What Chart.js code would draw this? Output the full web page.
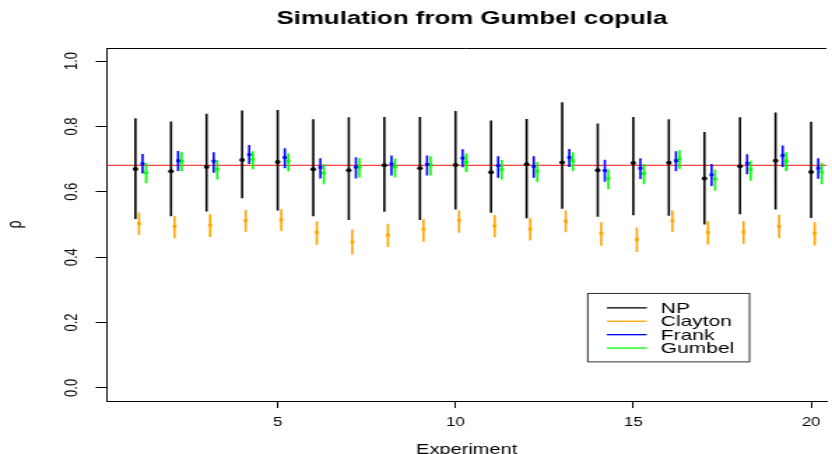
<!DOCTYPE html>
<html>
<head>
<meta charset="utf-8">
<script src="https://cdn.jsdelivr.net/npm/chart.js@4"></script>
<style>
  html, body { margin: 0; padding: 0; background: #fff; overflow: hidden; }
  #wrap { width: 832px; height: 454px; overflow: hidden; }
  /* the reference is drawn wide: stretch the canvas sideways */
  #chart { transform: scaleX(1.3983); transform-origin: 0 0; }
</style>
</head>
<body>
<div id="wrap"><canvas id="chart" width="595" height="470"></canvas></div>
<script>
// data
const experiments = [1, 2, 3, 4, 5, 6, 7, 8, 9, 10, 11, 12, 13, 14, 15, 16, 17, 18, 19, 20];
const methods = ['NP', 'Clayton', 'Frank', 'Gumbel'];
const methodColors = ['#000000', '#FFA500', '#0000FF', '#00FF00'];
const methodShift = [0, 0.1, 0.2, 0.3];

const npEst = [0.670, 0.663, 0.676, 0.697, 0.691, 0.669, 0.666, 0.681, 0.672, 0.682, 0.660, 0.684, 0.690, 0.666, 0.688, 0.689, 0.641, 0.678, 0.695, 0.661];
const npLow = [0.517, 0.525, 0.540, 0.580, 0.543, 0.525, 0.514, 0.539, 0.514, 0.546, 0.536, 0.519, 0.548, 0.524, 0.528, 0.527, 0.500, 0.531, 0.546, 0.520];
const npHigh = [0.825, 0.815, 0.839, 0.849, 0.850, 0.822, 0.828, 0.829, 0.829, 0.847, 0.818, 0.823, 0.874, 0.809, 0.829, 0.822, 0.783, 0.828, 0.843, 0.814];

const claytonEst = [0.503, 0.494, 0.498, 0.512, 0.515, 0.476, 0.447, 0.467, 0.485, 0.512, 0.496, 0.486, 0.510, 0.473, 0.454, 0.511, 0.476, 0.477, 0.494, 0.474];
const claytonLow = [0.468, 0.458, 0.462, 0.478, 0.480, 0.438, 0.408, 0.431, 0.447, 0.475, 0.461, 0.451, 0.476, 0.435, 0.416, 0.477, 0.439, 0.441, 0.459, 0.436];
const claytonHigh = [0.537, 0.527, 0.531, 0.544, 0.547, 0.510, 0.485, 0.502, 0.516, 0.543, 0.529, 0.519, 0.543, 0.507, 0.491, 0.543, 0.510, 0.511, 0.530, 0.507];

const frankEst = [0.686, 0.695, 0.694, 0.714, 0.705, 0.675, 0.676, 0.685, 0.684, 0.703, 0.680, 0.678, 0.705, 0.665, 0.672, 0.695, 0.652, 0.687, 0.711, 0.672];
const frankLow = [0.656, 0.664, 0.658, 0.685, 0.672, 0.641, 0.641, 0.650, 0.650, 0.675, 0.643, 0.643, 0.676, 0.631, 0.639, 0.663, 0.618, 0.654, 0.676, 0.640];
const frankHigh = [0.716, 0.725, 0.721, 0.743, 0.733, 0.703, 0.706, 0.711, 0.711, 0.730, 0.709, 0.709, 0.731, 0.698, 0.703, 0.724, 0.685, 0.715, 0.742, 0.703];

const gumbelEst = [0.658, 0.693, 0.669, 0.699, 0.694, 0.657, 0.676, 0.676, 0.682, 0.691, 0.668, 0.663, 0.695, 0.641, 0.656, 0.701, 0.639, 0.668, 0.694, 0.660];
const gumbelLow = [0.626, 0.663, 0.638, 0.669, 0.663, 0.623, 0.644, 0.644, 0.650, 0.661, 0.638, 0.630, 0.664, 0.608, 0.623, 0.670, 0.603, 0.634, 0.664, 0.623];
const gumbelHigh = [0.688, 0.721, 0.697, 0.724, 0.718, 0.685, 0.703, 0.702, 0.709, 0.717, 0.697, 0.691, 0.721, 0.669, 0.685, 0.727, 0.668, 0.695, 0.721, 0.689];

const trueRho = 0.681;
const xTicks = [5, 10, 15, 20];
const yTicks = [0, 0.2, 0.4, 0.6, 0.8, 1.0];
const xRange = [0.2, 20.43];
const yRange = [-0.04, 1.04];
const plotRightEnd = 20.72;   // R's full x range, the picture is cut before it
const legendAt = [13.72, 0.289];
const titleText = 'Simulation from Gumbel copula';

const estimates = [npEst, claytonEst, frankEst, gumbelEst];
const lows = [npLow, claytonLow, frankLow, gumbelLow];
const highs = [npHigh, claytonHigh, frankHigh, gumbelHigh];

const FONT = "'Liberation Sans', Arial, Helvetica, sans-serif";
Chart.defaults.color = '#000';
Chart.defaults.font.family = FONT;

// point markers first so they sit on top of the bars
const pointSets = methods.map((name, m) => ({
    type: 'scatter',
    label: name,
    data: experiments.map((e, i) => ({ x: e + methodShift[m], y: estimates[m][i] })),
    pointStyle: m === 0 ? 'circle' : 'rect',
    pointRadius: 2,
    backgroundColor: methodColors[m],
    borderWidth: 0,
    showLine: false,
}));

const barSets = methods.map((name, m) => ({
    type: 'bar',
    label: name + ' interval',
    data: experiments.map((e, i) => ({ x: e + methodShift[m], y: [lows[m][i], highs[m][i]] })),
    backgroundColor: methodColors[m],
    borderWidth: 0,
    barThickness: 1.6,
    inflateAmount: 0,
    grouped: false,
}));

const rhoLine = {
    type: 'line',
    label: 'rho',
    data: [{ x: xRange[0], y: trueRho }, { x: xRange[1], y: trueRho }],
    borderColor: '#ff4040',
    borderWidth: 1.2,
    pointRadius: 0,
    fill: false,
};

// title, top side of the R plot box and the boxed legend
const framePlugin = {
    id: 'frame',
    afterDraw(chart) {
        const { ctx, chartArea, scales } = chart;
        ctx.save();
        ctx.strokeStyle = '#000';
        ctx.lineWidth = 1;
        ctx.beginPath();
        ctx.moveTo(chartArea.left, chartArea.top + 0.5);
        ctx.lineTo(chartArea.right, chartArea.top + 0.5);
        ctx.stroke();

        ctx.fillStyle = '#000';
        ctx.font = 'bold 18.5px ' + FONT;
        ctx.textAlign = 'center';
        ctx.textBaseline = 'middle';
        ctx.fillText(titleText, (chartArea.left + scales.x.getPixelForValue(plotRightEnd)) / 2, 19);

        const left = scales.x.getPixelForValue(legendAt[0]);
        const top = scales.y.getPixelForValue(legendAt[1]);
        ctx.strokeStyle = '#333';
        ctx.strokeRect(left, top, 115.7, 68.4);
        ctx.font = '15px ' + FONT;
        ctx.textAlign = 'left';
        methods.forEach((name, m) => {
            const rowY = top + 14.4 + m * 13.4;
            ctx.strokeStyle = methodColors[m];
            ctx.lineWidth = 1.3;
            ctx.beginPath();
            ctx.moveTo(left + 13.6, rowY);
            ctx.lineTo(left + 42.2, rowY);
            ctx.stroke();
            ctx.fillStyle = '#000';
            ctx.fillText(name, left + 52.2, rowY + 1);
        });
        ctx.restore();
    }
};

new Chart(document.getElementById('chart'), {
    type: 'scatter',
    data: { datasets: [...pointSets, ...barSets, rhoLine] },
    options: {
        responsive: false,
        devicePixelRatio: 1,
        animation: false,
        layout: { padding: { top: 48, left: 0, right: 0, bottom: 0 } },
        plugins: {
            legend: { display: false },
            tooltip: { enabled: false },
            title: { display: false },
        },
        scales: {
            x: {
                type: 'linear',
                min: xRange[0],
                max: xRange[1],
                offset: false,
                afterBuildTicks: axis => { axis.ticks = xTicks.map(v => ({ value: v })); },
                afterFit: axis => { axis.height = 69; axis.paddingLeft = 0; axis.paddingRight = 0; },
                ticks: { font: { size: 12 }, padding: 7.3, maxRotation: 0 },
                grid: { drawOnChartArea: false, drawTicks: true, tickLength: 7, color: '#000', offset: false },
                border: { display: true, color: '#000', width: 1 },
                title: { display: true, text: 'Experiment', font: { size: 14.3 }, padding: { top: 0, bottom: 11.4 } },
            },
            y: {
                type: 'linear',
                min: yRange[0],
                max: yRange[1],
                beginAtZero: false,
                afterBuildTicks: axis => { axis.ticks = yTicks.map(v => ({ value: v })); },
                afterFit: axis => { axis.width = 76.5; axis.paddingTop = 0; axis.paddingBottom = 0; },
                ticks: {
                    font: { size: 13 },
                    padding: 7.8,
                    minRotation: 90,
                    maxRotation: 90,
                    crossAlign: 'center',
                    callback: v => v.toFixed(1),
                },
                grid: { drawOnChartArea: false, drawTicks: true, tickLength: 8, color: '#000' },
                border: { display: true, color: '#000', width: 1 },
                title: { display: true, text: 'ρ', font: { size: 14.3 }, padding: { top: 2.1, bottom: 0 } },
            },
        },
    },
    plugins: [framePlugin],
});
</script>
</body>
</html>
